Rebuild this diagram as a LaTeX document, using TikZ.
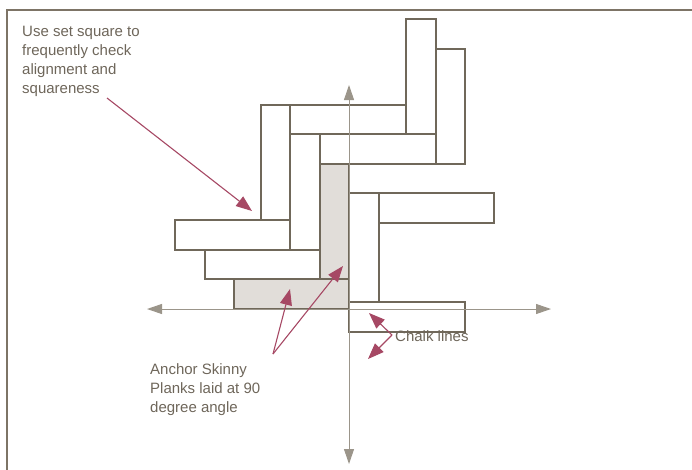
\documentclass[tikz,border=0pt]{standalone}
\usepackage{fontspec}
\setmainfont{Liberation Sans}
\usetikzlibrary{arrows.meta}
\definecolor{edgec}{RGB}{112,104,90}
\definecolor{axisc}{RGB}{155,149,138}
\definecolor{shadec}{RGB}{225,221,217}
\definecolor{redc}{RGB}{166,72,100}
\definecolor{txtc}{RGB}{110,102,90}
\definecolor{framec}{RGB}{125,116,102}
\tikzset{
  plank/.style={draw=edgec, line width=1.1pt, fill=white},
  anchorplank/.style={draw=edgec, line width=1.1pt, fill=shadec},
  axisline/.style={draw=axisc, line width=1pt, -{Triangle[length=15pt,width=10pt]}},
  redarrow/.style={draw=redc, line width=1.1pt, -{Triangle[length=16pt,width=12pt]}},
  txt/.style={text=txtc, font=\fontsize{15}{19}\selectfont, align=left, inner sep=0pt, anchor=north west}
}
\begin{document}
\begin{tikzpicture}[x=1pt,y=-1pt]
\useasboundingbox (0,0) rectangle (692,469);
% frame
\draw[framec, line width=2pt] (7,470) -- (7,10) -- (693,10);
% planks
\draw[plank] (406,19) rectangle (436,134);
\draw[plank] (436,49) rectangle (465,164);
\draw[plank] (290,105) rectangle (406,134);
\draw[plank] (320,134) rectangle (436,164);
\draw[plank] (261,105) rectangle (290,220);
\draw[plank] (290,134) rectangle (320,250);
\draw[anchorplank] (320,164) rectangle (349,279);
\draw[plank] (175,220) rectangle (290,250);
\draw[plank] (205,250) rectangle (320,279);
\draw[anchorplank] (234,279) rectangle (349,309);
\draw[plank] (349,193) rectangle (379,302);
\draw[plank] (379,193) rectangle (494,223);
\draw[plank] (349,302) rectangle (465,332);
% axes
\coordinate (origin) at (349,309);
\coordinate (axL) at (147,309);
\coordinate (axR) at (551,309);
\coordinate (axT) at (349,85);
\coordinate (axB) at (349,464);
\draw[axisline] (origin) -- (axL);
\draw[axisline] (origin) -- (axR);
\draw[axisline] (origin) -- (axT);
\draw[axisline] (origin) -- (axB);
% texts
\node[txt] (setsq) at (22,26) {Use set square to\\frequently check\\alignment and\\squareness};
\node[txt] (anchortxt) at (150,363) {Anchor Skinny\\Planks laid at 90\\degree angle};
\node[txt] (chalk) at (395,330) {Chalk lines};
% arrows
\coordinate (s1) at (107,98);
\coordinate (t1) at (252,211);
\draw[redarrow] (s1) -- (t1);
\coordinate (s2) at (273,354);
\coordinate (t2a) at (290,289);
\coordinate (t2b) at (343,266);
\draw[redarrow] (s2) -- (t2a);
\draw[redarrow] (s2) -- (t2b);
\coordinate (s3) at (392,335);
\coordinate (t3a) at (369,313);
\coordinate (t3b) at (368,359);
\draw[redarrow] (s3) -- (t3a);
\draw[redarrow] (s3) -- (t3b);
\end{tikzpicture}
\end{document}
